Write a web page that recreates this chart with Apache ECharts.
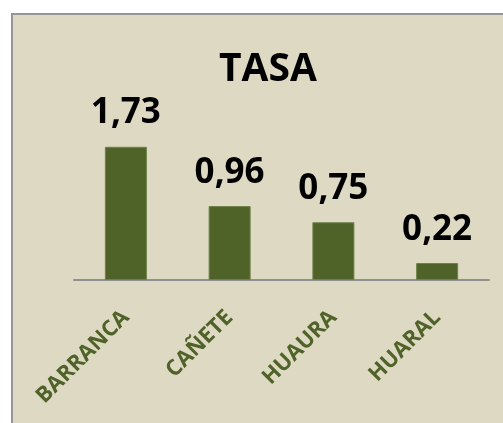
<!DOCTYPE html>
<html style="height: 100%">
<head>
    <meta charset="utf-8">
    <title>TASA</title>
    <script src="https://cdn.jsdelivr.net/npm/echarts/dist/echarts.min.js"></script>
</head>
<body style="height: 100%; margin: 0; background: #fff">
    <div id="main" style="width: 503px; height: 423px"></div>
    <script type="text/javascript">
        // datos del gráfico
        var provincias = ['BARRANCA', 'CAÑETE', 'HUAURA', 'HUARAL'];
        var tasas = [1.73, 0.96, 0.75, 0.22];

        var myChart = echarts.init(document.getElementById('main'));

        var option = {
            backgroundColor: '#ffffff',
            textStyle: { fontFamily: 'Open Sans' },
            // marco del área del gráfico
            graphic: [{
                type: 'rect',
                z: -10,
                shape: { x: 12, y: 14, width: 600, height: 500 },
                style: { fill: '#DDD9C3', stroke: '#959595', lineWidth: 2 }
            }],
            title: {
                text: 'TASA',
                left: 214,
                top: 45,
                textStyle: {
                    fontFamily: 'Open Sans',
                    fontSize: 39,
                    fontWeight: 'bold',
                    color: '#000'
                }
            },
            grid: {
                left: 74,
                right: 14,
                top: 126,
                bottom: 143
            },
            xAxis: {
                type: 'category',
                data: provincias,
                axisLine: { lineStyle: { color: '#909090', width: 2 } },
                axisTick: { show: false },
                axisLabel: {
                    rotate: 45,
                    margin: 34,
                    color: '#4F6228',
                    fontSize: 22,
                    fontWeight: 'bold',
                    fontFamily: 'Open Sans'
                }
            },
            yAxis: {
                type: 'value',
                min: 0,
                max: 2,
                show: false,
                splitLine: { show: false }
            },
            series: [{
                type: 'bar',
                data: tasas,
                barWidth: 42,
                itemStyle: { color: '#4F6228', borderColor: '#6E8148', borderWidth: 1 },
                label: {
                    show: true,
                    position: 'top',
                    distance: 16,
                    color: '#000',
                    fontSize: 35,
                    fontWeight: 'bold',
                    fontFamily: 'Open Sans',
                    formatter: function (p) {
                        return p.value.toFixed(2).replace('.', ',');
                    }
                }
            }]
        };

        myChart.setOption(option);
    </script>
</body>
</html>
